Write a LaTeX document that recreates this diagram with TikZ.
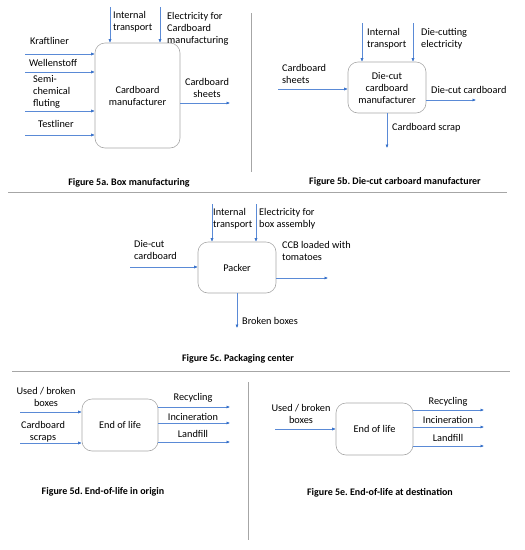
\documentclass[tikz,border=0pt]{standalone}
\usepackage{fontspec}
\setmainfont{Carlito}
\usetikzlibrary{arrows.meta}
\definecolor{flowblue}{HTML}{5A8AD6}
\definecolor{tipblue}{HTML}{2F6BC8}
\definecolor{boxgray}{HTML}{A8A8A8}
\definecolor{sepgray}{HTML}{A6A6A6}
\frenchspacing
\tikzset{
  procbox/.style={draw=boxgray, line width=0.6pt, rounded corners=10pt, inner sep=0pt, align=center, font=\fontsize{10.3}{12}\selectfont},
  flow/.style={draw=flowblue, line width=0.5pt, -{Latex[length=3.5pt,width=3pt,color=tipblue]}},
  lbl/.style={inner sep=0pt, align=left, font=\fontsize{10.3}{12}\selectfont},
  clbl/.style={inner sep=0pt, align=center, font=\fontsize{10.3}{12}\selectfont},
  figcap/.style={inner sep=0pt, font=\fontsize{10}{12}\selectfont\bfseries},
  sepline/.style={draw=sepgray, line width=1pt}
}
\begin{document}
\begin{tikzpicture}[x=1pt,y=-1pt]
\useasboundingbox (0,0) rectangle (525,550);

% separators
\coordinate (v1a) at (251,13); \coordinate (v1b) at (251,172);
\coordinate (h1a) at (8,192); \coordinate (h1b) at (507,192);
\coordinate (h2a) at (12,371); \coordinate (h2b) at (510,371);
\coordinate (v2a) at (248,382); \coordinate (v2b) at (248,540);
\draw[sepline] (v1a) -- (v1b);
\draw[sepline] (h1a) -- (h1b);
\draw[sepline] (h2a) -- (h2b);
\draw[sepline] (v2a) -- (v2b);

% ---------- Panel a ----------
\node[procbox, minimum width=85pt, minimum height=105pt] (boxa) at (137.5,95.5) {Cardboard\\manufacturer};
\coordinate (a1) at (25,54); \coordinate (a2) at (25,72);
\coordinate (a3) at (25,111); \coordinate (a4) at (25,135);
\draw[flow] (a1) -- (a1 -| boxa.west);
\draw[flow] (a2) -- (a2 -| boxa.west);
\draw[flow] (a3) -- (a3 -| boxa.west);
\draw[flow] (a4) -- (a4 -| boxa.west);
\coordinate (at1) at (110,7); \coordinate (at2) at (160,7);
\draw[flow] (at1) -- (at1 |- boxa.north);
\draw[flow] (at2) -- (at2 |- boxa.north);
\coordinate (ao) at (230,103);
\draw[flow] (ao -| boxa.east) -- (ao);
\node[lbl, anchor=west] (la1) at (30,41) {Kraftliner};
\node[lbl, anchor=west] (la2) at (29,63) {Wellenstoff};
\node[lbl, anchor=west] (la3) at (33,92) {Semi-\\chemical\\fluting};
\node[lbl, anchor=west] (la4) at (38,124) {Testliner};
\node[lbl, anchor=west] (lat1) at (113,22) {Internal\\transport};
\node[lbl, anchor=west] (lat2) at (167,28.5) {Electricity for\\Cardboard\\manufacturing};
\node[clbl] (lao) at (207,88) {Cardboard\\sheets};
\node[figcap] (capa) at (129,183) {Figure 5a. Box manufacturing};

% ---------- Panel b ----------
\node[procbox, minimum width=78pt, minimum height=51pt] (boxb) at (387,87.5) {Die-cut\\cardboard\\manufacturer};
\coordinate (bt1) at (362,23); \coordinate (bt2) at (413,23);
\draw[flow] (bt1) -- (bt1 |- boxb.north);
\draw[flow] (bt2) -- (bt2 |- boxb.north);
\coordinate (bi) at (278,89);
\draw[flow] (bi) -- (bi -| boxb.west);
\coordinate (bo) at (476,100);
\draw[flow] (bo -| boxb.east) -- (bo);
\coordinate (bd) at (387,148);
\draw[flow] (bd |- boxb.south) -- (bd);
\node[lbl, anchor=west] (lbt1) at (367,39) {Internal\\transport};
\node[lbl, anchor=west] (lbt2) at (421,39) {Die-cutting\\electricity};
\node[lbl, anchor=west] (lbi) at (282,74) {Cardboard\\sheets};
\node[lbl, anchor=west] (lbo) at (431,90) {Die-cut cardboard};
\node[lbl, anchor=west] (lbd) at (392,128) {Cardboard scrap};
\node[figcap] (capb) at (395,182) {Figure 5b. Die-cut carboard manufacturer};

% ---------- Panel c ----------
\node[procbox, minimum width=78pt, minimum height=51pt] (boxc) at (237,267.5) {Packer};
\coordinate (ct1) at (212,204); \coordinate (ct2) at (256,204);
\draw[flow] (ct1) -- (ct1 |- boxc.north);
\draw[flow] (ct2) -- (ct2 |- boxc.north);
\coordinate (ci) at (130,267);
\draw[flow] (ci) -- (ci -| boxc.west);
\coordinate (co) at (328,278);
\draw[flow] (co -| boxc.east) -- (co);
\coordinate (cd) at (237,328);
\draw[flow] (cd |- boxc.south) -- (cd);
\node[lbl, anchor=west] (lct1) at (213,219) {Internal\\transport};
\node[lbl, anchor=west] (lct2) at (259,219) {Electricity for\\box assembly};
\node[lbl, anchor=west] (lci) at (134,250) {Die-cut\\cardboard};
\node[lbl, anchor=west] (lco) at (282,250.5) {CCB loaded with\\tomatoes};
\node[lbl, anchor=west] (lcd) at (242,321) {Broken boxes};
\node[figcap] (capc) at (238,359) {Figure 5c. Packaging center};

% ---------- Panel d ----------
\node[procbox, minimum width=76pt, minimum height=52pt] (boxd) at (120,425) {End of life};
\coordinate (di1) at (20,412); \coordinate (di2) at (20,443);
\draw[flow] (di1) -- (di1 -| boxd.west);
\draw[flow] (di2) -- (di2 -| boxd.west);
\coordinate (do1) at (230,407); \coordinate (do2) at (230,423); \coordinate (do3) at (230,442);
\draw[flow] (do1 -| boxd.east) -- (do1);
\draw[flow] (do2 -| boxd.east) -- (do2);
\draw[flow] (do3 -| boxd.east) -- (do3);
\node[clbl] (ldi1) at (46,397) {Used / broken\\boxes};
\node[clbl] (ldi2) at (43,432) {Cardboard\\scraps};
\node[clbl] (ldo1) at (193,398) {Recycling};
\node[clbl] (ldo2) at (193,417) {Incineration};
\node[clbl] (ldo3) at (193,434) {Landfill};
\node[figcap] (capd) at (103,492) {Figure 5d. End-of-life in origin};

% ---------- Panel e ----------
\node[procbox, minimum width=77pt, minimum height=52pt] (boxe) at (374.5,429) {End of life};
\coordinate (ei) at (275,429);
\draw[flow] (ei) -- (ei -| boxe.west);
\coordinate (eo1) at (484,410); \coordinate (eo2) at (484,427); \coordinate (eo3) at (484,446);
\draw[flow] (eo1 -| boxe.east) -- (eo1);
\draw[flow] (eo2 -| boxe.east) -- (eo2);
\draw[flow] (eo3 -| boxe.east) -- (eo3);
\node[clbl] (lei) at (301,414) {Used / broken\\boxes};
\node[clbl] (leo1) at (448,402) {Recycling};
\node[clbl] (leo2) at (448,420) {Incineration};
\node[clbl] (leo3) at (448,438) {Landfill};
\node[figcap] (cape) at (380,493) {Figure 5e. End-of-life at destination};
\end{tikzpicture}
\end{document}
